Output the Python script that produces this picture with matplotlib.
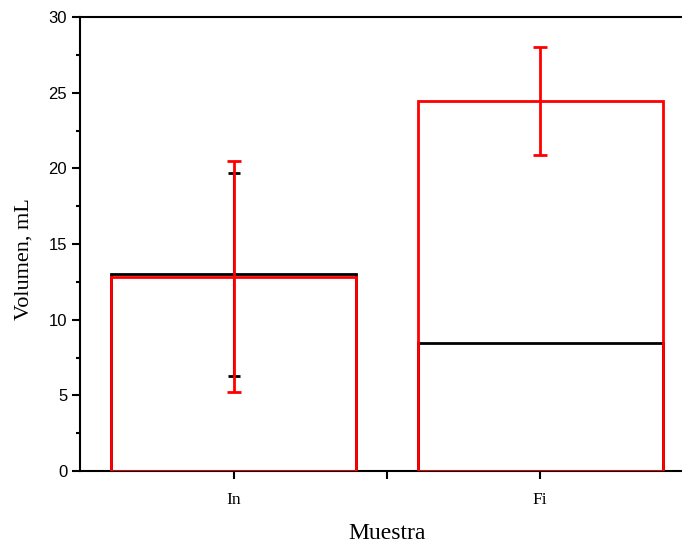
import numpy as np
import matplotlib.pyplot as plt
from matplotlib.ticker import MultipleLocator

muestras = ['In', 'Fi']
vol_negro = [13.0, 8.45]
err_negro = [6.7, np.nan]
vol_rojo = [12.85, 24.45]
err_rojo = [7.65, 3.55]

x = np.arange(1, len(muestras) + 1)

fig = plt.figure(figsize=(6.82, 5.5), dpi=100)
ax = fig.add_axes([0.1178, 0.1436, 0.899, 0.8255])

ax.bar(x, vol_negro, width=0.8, fill=False, edgecolor='black', linewidth=2, zorder=2)
ax.errorbar(x, vol_negro, yerr=err_negro, fmt='none', ecolor='black',
            elinewidth=1.5, capsize=4, capthick=2, zorder=3)
ax.bar(x, vol_rojo, width=0.8, fill=False, edgecolor='red', linewidth=2, zorder=4)
ax.errorbar(x, vol_rojo, yerr=err_rojo, fmt='none', ecolor='red',
            elinewidth=2, capsize=5, capthick=2, zorder=5)

ax.set_xlim(0.5, 2.5)
ax.set_ylim(0, 30)
ax.set_xticks([1, 1.5, 2])
ax.set_xticklabels(['In', '', 'Fi'], family='Liberation Serif', fontsize=12.5)
ax.yaxis.set_major_locator(MultipleLocator(5))
ax.yaxis.set_minor_locator(MultipleLocator(2.5))
for lab in ax.get_yticklabels():
    lab.set_family('Liberation Sans')
    lab.set_fontsize(12)

ax.tick_params(which='both', direction='out', width=1.5)
ax.tick_params(axis='x', which='major', length=6, pad=9)
ax.tick_params(axis='y', which='major', length=6)
ax.tick_params(which='minor', length=3)
for s in ['left', 'top', 'bottom', 'right']:
    ax.spines[s].set_linewidth(1.5)

ax.set_ylabel('Volumen, mL', family='Liberation Serif', fontsize=16)
ax.yaxis.set_label_coords(-0.077, 0.467)
ax.set_xlabel('Muestra', family='Liberation Serif', fontsize=17)
ax.xaxis.set_label_coords(0.5, -0.115)

fig.savefig('out.png')
plt.close()
